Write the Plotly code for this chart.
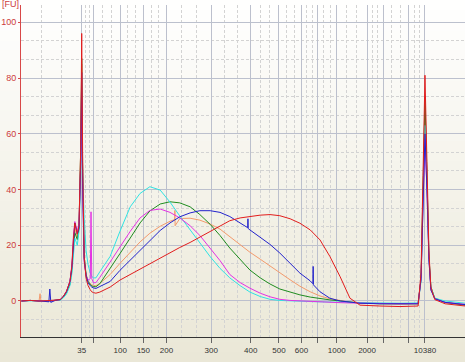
import plotly.graph_objects as go

# Migration time grid (s) shared by all samples
T = [27.7, 29.5, 31.3, 31.5, 31.7, 33.3, 33.5, 33.7, 34.6, 35.6,
     36.2, 36.9, 37.6, 38.0, 38.3, 38.6, 39.1, 39.45, 39.8, 40.0,
     40.2, 40.5, 40.9, 41.3, 41.75, 41.9, 42.05, 42.4, 42.9, 43.7,
     45.8, 47.8, 49.9, 51.9, 53.9, 56.0, 58.0, 60.0, 62.1, 64.1,
     66.2, 68.2, 70.2, 72.3, 74.3, 76.4, 78.4, 80.4, 82.5, 84.5,
     86.6, 88.6, 90.6, 92.7, 94.7, 96.75, 100.8, 104.9, 108.6, 109.2,
     109.6, 110.0, 110.4, 110.8, 111.2, 112.0, 114.1, 118.2]

RED_FU = [0, 0.2, 0, 0, 0, 0.2, 0, 0.2, 0.3, 0.5,
          1.5, 3.5, 7, 12.5, 22, 28, 24, 27, 55, 96,
          50, 16, 8, 5.5, 4, 3.6, 3.3, 3.0, 2.8, 3.2,
          5, 7.5, 9.5, 11.5, 13.5, 15.5, 17.3, 19.2, 21, 23,
          25, 27, 28.8, 29.8, 30.3, 30.8, 31, 30.6, 29.5, 27.9,
          25.5, 21.9, 16, 8.7, 1.0, -1.5, -1.8, -2, -1.8, 10,
          45, 81, 50, 18, 5, 0.5, -1, -1.8]

BLUE_FU = [0, 0.2, 0, 0, 0, -0.3, 4.3, -0.5, 0.2, 0.5,
           1.5, 3.3, 7, 12, 22, 28, 24, 26, 50, 82,
           42, 15, 9, 6.5, 5.5, 5.2, 5, 4.7, 4.5, 5.2,
           7, 11, 14.7, 18.3, 21.9, 25.3, 28, 30.2, 31.6, 32.4,
           32.4, 31.8, 30.3, 28, 25.5, 23, 20.3, 17.2, 13.5, 10,
           7.2, 3.3, 1.0, 0, -0.3, -0.8, -1, -1.1, -1, 8,
           35, 60, 40, 15, 4, 0.8, -0.5, -1.3]
BLUE_EXTRA_T = [73.85, 73.9, 73.95, 87.15, 87.2, 87.25]
BLUE_EXTRA_FU = [26.3, 29.5, 26.0, 6.2, 12.4, 5.8]

GREEN_FU = [0, 0.2, 0, 0, 0, 0.2, 0, 0, 0.3, 0.4,
            1.3, 3, 6, 11, 19, 24.5, 22, 26, 55, 87,
            45, 16, 9.5, 7, 6, 5.6, 5.4, 5.2, 5.1, 6.2,
            11.5, 17, 22.6, 28, 32.3, 34.8, 35.6, 35.2, 33.8, 31,
            27.5, 23.5, 19, 14.8, 11.1, 8.3, 6.1, 4.3, 3.1, 2.2,
            1.4, 0.8, 0.4, 0, -0.4, -0.7, -1, -1.1, -1, 8,
            40, 73, 45, 16, 5, 1, -0.5, -1.5]

ORANGE_FU = [0, 0.2, 0, 2.6, 0, 0.2, 0, 0, 0.3, 0.4,
             1.4, 3.2, 6.5, 12, 21, 26, 23, 27, 55, 85,
             45, 15, 9, 7, 6.3, 6, 5.8, 5.6, 5.5, 6.3,
             9.5, 13.5, 17.5, 21.2, 24.3, 26.8, 28.6, 29.6, 29.7, 29,
             27.6, 25.8, 23, 20, 17.5, 15, 12.5, 10, 7.6, 5.3,
             3.3, 1.8, 0.8, 0.2, -0.4, -0.7, -1, -1.1, -1, 8,
             38, 70, 45, 16, 5, 1, -0.5, -1.4]
ORANGE_EXTRA_T = [58.95, 59.0, 59.05]
ORANGE_EXTRA_FU = [29.2, 32.5, 27.0]

MAGENTA_FU = [0, 0.2, 0, 0, 0, 0, 0, 0, 0.3, 0.5,
              1.5, 3.5, 7, 13, 23, 28.5, 25, 28, 50, 72,
              38, 14, 9, 7.5, 8, 32, 8, 6.5, 6.6, 8.5,
              14, 19.5, 25, 29.8, 32.5, 33, 31.8, 29.8, 27, 23.5,
              19, 14.5, 9.5, 6.6, 4.6, 2.8, 1.5, 0.6, 0.2, 0,
              -0.2, -0.4, -0.5, -0.6, -0.7, -0.8, -0.9, -1, -0.9, 8,
              35, 58, 40, 15, 4, 0.8, -0.5, -1.2]

CYAN_FU = [0, 0, 0, 0, 0, 0, 0, 0, 0.2, 0.3,
           1, 2.5, 5.5, 10, 18, 22.5, 20, 25, 45, 65,
           45, 30, 18, 13, 10, 9.2, 8.8, 8.3, 8.3, 10.5,
           16, 25, 33.8, 38.6, 41, 39.8, 35.5, 30.5, 25.5, 20.8,
           15.9, 11.7, 8.3, 5.5, 3.2, 1.6, 0.6, 0.2, 0, -0.1,
           -0.2, -0.3, -0.4, -0.5, -0.5, -0.6, -0.7, -0.8, -0.7, 7,
           32, 63, 45, 16, 5, 1, 0, -0.8]

# Ladder (x axis) tick positions in migration time and their bp labels
LADDER_TIME = [40.0, 42.37, 47.85, 52.56, 57.29, 66.41, 74.46, 80.23,
               84.82, 88.04, 92.0, 98.18, 101.5, 106.7, 110.0]
LADDER_BP = ["35", "", "100", "150", "200", "300", "400", "500",
             "600", "", "1000", "2000", "", "", "10380"]
X_START = 27.7

Y_TICKS = [0, 20, 40, 60, 80, 100]

series = [
    ("orange", "#f39a6c", ORANGE_FU, ORANGE_EXTRA_T, ORANGE_EXTRA_FU),
    ("green", "#1f8c1f", GREEN_FU, [], []),
    ("cyan", "#2fe3e3", CYAN_FU, [], []),
    ("magenta", "#e431e4", MAGENTA_FU, [], []),
    ("blue", "#2222cc", BLUE_FU, BLUE_EXTRA_T, BLUE_EXTRA_FU),
    ("red", "#e21d1d", RED_FU, [], []),
]

fig = go.Figure()
for name, color, vals, ext_t, ext_v in series:
    pts = sorted(list(zip(T, vals)) + list(zip(ext_t, ext_v)))
    fig.add_trace(go.Scatter(
        x=[p[0] for p in pts], y=[p[1] for p in pts], mode="lines",
        name=name, line=dict(color=color, width=1), hoverinfo="skip"))

# minor vertical grid: thirds between consecutive ladder ticks
edges = [X_START] + LADDER_TIME
minor_x = []
for a, b in zip(edges[:-1], edges[1:]):
    minor_x += [a + (b - a) / 3, a + 2 * (b - a) / 3]

W, H = 465, 362
ML, MR, MT, MB = 21, 0, 5, 25
pw, ph = W - ML - MR, H - MT - MB

# vertical background gradient (white -> beige)
shapes = []
N = 36
top_c, bot_c = (255, 255, 255), (234, 231, 214)
y_top, y_bot = 1 + MT / ph, -MB / ph
for i in range(N):
    f = (i + 0.5) / N
    c = tuple(round(top_c[k] + (bot_c[k] - top_c[k]) * f) for k in range(3))
    y1 = y_top - (y_top - y_bot) * i / N
    y0 = y_top - (y_top - y_bot) * (i + 1) / N - 0.002
    shapes.append(dict(type="rect", xref="paper", yref="paper",
                       x0=-ML / pw - 0.01, x1=1.01, y0=y0, y1=y1,
                       fillcolor="rgb(%d,%d,%d)" % c, line=dict(width=0),
                       layer="below"))

GRID = "#bcc0cd"
MINOR = "#d3d3d3"
fig.update_layout(
    width=W, height=H,
    margin=dict(l=ML, r=MR, t=MT, b=MB, pad=0, autoexpand=False),
    paper_bgcolor="#ffffff", plot_bgcolor="rgba(0,0,0,0)",
    showlegend=False, shapes=shapes,
    font=dict(family="Liberation Sans, Arial, sans-serif"),
    xaxis=dict(range=[27.62, 118.16], tickmode="array",
               tickvals=LADDER_TIME, ticktext=LADDER_BP,
               ticks="outside", ticklen=5, tickcolor="#666",
               tickfont=dict(size=8, color="#333"),
               showgrid=True, gridcolor=GRID, gridwidth=1,
               showline=True, linecolor="#333", linewidth=1,
               zeroline=False, fixedrange=True, automargin=False,
               minor=dict(tickmode="array", tickvals=minor_x, showgrid=True,
                          gridcolor=MINOR, griddash="3px,2px", ticks="")),
    yaxis=dict(range=[-12.92, 106.2], tickmode="array", tickvals=Y_TICKS,
               ticktext=[str(v) for v in Y_TICKS],
               ticks="outside", ticklen=2, tickcolor="#d84848",
               tickfont=dict(size=9, color="#cc3b3b"),
               showgrid=True, gridcolor=GRID, gridwidth=1,
               showline=True, linecolor="#d84848", linewidth=1,
               zeroline=False, fixedrange=True, automargin=False,
               minor=dict(tick0=0, dtick=20 / 3, showgrid=True,
                          gridcolor=MINOR, griddash="3px,2px", ticks="")),
    annotations=[dict(text="[FU]", xref="paper", yref="paper",
                      x=-ML / pw, y=1 + MT / ph, xanchor="left",
                      yanchor="top", yshift=3, showarrow=False,
                      font=dict(size=9, color="#cc3b3b"))],
)

fig.write_html("out.html", config={"displayModeBar": False},
               post_script="document.body.style.margin='0px';"
                           "document.body.style.overflow='hidden';")
